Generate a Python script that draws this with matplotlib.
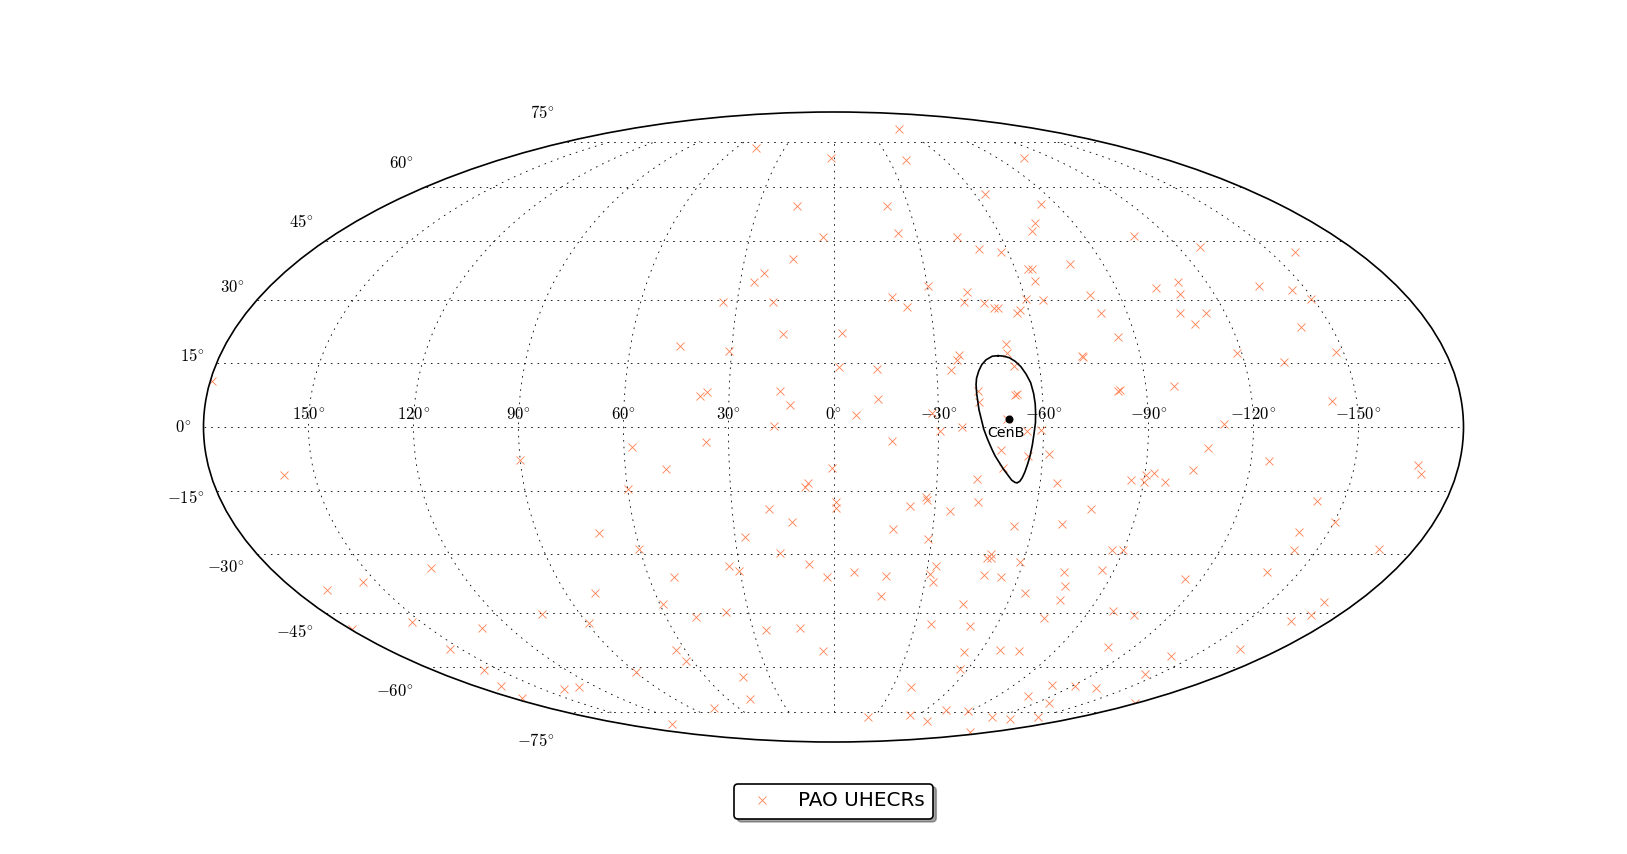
import numpy as np
import matplotlib
matplotlib.use("Agg")
from matplotlib import pyplot as plt
from matplotlib.transforms import Affine2D

# arrival directions, galactic longitude (deg, positive to the left) and latitude (deg)
uhecr_lon = [
    -58.7, 47.3, 1.4, -38.9, -104.8, -64.5, 14.7, -21.4, -84.0, -75.6, -72.4, -23.5, 3.9, -44.1, -108.0,
    -50.5, -57.5, -127.7, -158.7, 13.8, 22.9, 25.5, -64.3, -65.6, -79.0, -65.0, -30.3, -42.2, -102.6, -110.9,
    -109.4, -135.9, -145.5, -149.4, -80.8, -18.4, -60.2, -65.3, -40.5, -46.9, -49.4, -50.7, -22.6, 18.9, 34.4,
    -106.3, -114.2, -81.8, -57.3, -56.1, -109.3, -140.8, -2.6, 15.0, -84.7, -51.1, -50.9, 45.5, 30.7, -36.7,
    -36.2, -118.7, -147.8, -73.1, -72.8, -52.7, -131.6, -34.1, -1.7, -12.5, -82.5, -81.9, -98.2, -41.5, -41.7,
    15.4, 36.5, 38.3, -12.9, 12.6, -52.0, -52.6, -142.9, 179.6, -6.4, -49.5, -28.3, -111.6, -36.7, -30.4,
    17.0, -55.4, -59.4, -47.9, -55.7, -61.7, 36.6, -16.8, 57.7, -107.1, -125.0, 90.1, -168.2, -169.8, 158.8,
    48.3, 0.4, -103.6, -48.7, -92.7, -90.4, -90.1, -86.1, -96.1, -41.5, -64.8, 60.0, 7.4, 8.3, -27.2,
    -27.6, -22.5, -42.6, -142.2, -0.8, -0.8, 19.2, -34.6, -76.3, 12.3, -18.0, -54.2, -68.7, -150.3, 71.3,
    27.1, -141.0, -29.0, 60.3, -143.1, -168.9, 16.7, -86.4, -90.0, -49.1, -48.1, -58.8, -49.4, -32.5, 33.2,
    30.5, 7.7, 128.6, 51.7, 2.2, -6.5, -17.0, -31.3, -48.8, -54.4, -74.2, -86.2, -139.3, -114.5, -32.5,
    168.9, 154.4, -76.8, 80.1, -16.0, -64.4, -77.4, 58.9, -44.6, -168.7, -98.4, -107.0, -170.2, 103.7, 37.9,
    49.3, 153.2, 89.0, -165.8, -75.6, 130.2, 25.4, 12.5, -35.5, -50.2, 179.3, 154.0, 63.5, 4.4, -53.1,
    -67.2, -75.1, -109.3, -163.6, -140.4, 63.1, 157.5, 90.1, 42.5, -56.8, -144.0, 166.8, 138.6, 128.8, -39.1,
    -108.6, -121.0, -133.7, -107.1, 175.4, 47.5, -126.9, 75.5, -177.7, -53.8, -88.5, -73.0, -25.5, -115.9, -134.4,
    -150.1, 139.6, -75.1, -153.0,
]
uhecr_lat = [
    80.3, 72.5, 69.3, 68.6, 69.3, 57.9, 54.3, 54.3, 54.9, 49.7, 47.4, 46.9, 46.0, 46.0, 46.3,
    42.8, 42.0, 43.3, 42.0, 40.1, 36.7, 34.3, 37.7, 37.7, 38.8, 34.6, 33.3, 32.0, 33.0, 34.3,
    31.5, 33.3, 32.3, 30.2, 31.2, 30.7, 30.2, 30.0, 29.5, 29.2, 27.9, 27.9, 28.2, 29.5, 29.5,
    26.7, 26.7, 26.7, 27.4, 26.7, 24.2, 23.4, 22.0, 21.7, 21.0, 19.4, 17.3, 18.8, 17.8, 16.8,
    15.6, 17.3, 17.5, 16.3, 16.6, 14.2, 15.1, 13.2, 13.9, 13.4, 8.5, 8.4, 9.5, 8.4, 5.8,
    8.3, 8.1, 7.3, 6.4, 5.2, 7.4, 7.6, 6.1, 10.7, 2.8, 1.9, 3.2, 0.6, 0.0, -0.9,
    0.1, -0.9, -0.7, -5.3, -6.7, -6.3, -3.5, -3.2, -4.7, -4.9, -7.8, -7.6, -8.8, -11.0, -11.2,
    -9.8, -9.5, -10.0, -9.5, -10.7, -11.2, -12.7, -12.4, -12.7, -12.1, -13.0, -14.4, -13.1, -13.9, -16.3,
    -17.0, -18.5, -17.5, -17.3, -17.5, -18.8, -19.2, -19.5, -19.2, -22.2, -23.9, -23.2, -22.7, -22.2, -24.9,
    -25.9, -24.7, -26.2, -28.7, -29.0, -28.7, -29.7, -29.0, -29.0, -30.0, -31.0, -31.8, -31.0, -32.8, -33.0,
    -34.1, -32.5, -33.3, -35.6, -35.6, -34.3, -35.4, -34.8, -35.1, -35.6, -34.3, -33.8, -34.3, -36.1, -36.9,
    -38.8, -36.9, -38.0, -39.8, -40.4, -39.8, -41.4, -42.5, -42.5, -42.0, -44.4, -45.5, -45.5, -45.2, -44.7,
    -46.0, -47.2, -47.4, -46.9, -46.3, -48.8, -49.4, -48.8, -47.7, -48.3, -49.1, -54.6, -54.9, -55.2, -55.5,
    -54.9, -55.2, -54.0, -54.6, -56.7, -58.2, -61.0, -61.6, -62.9, -60.7, -62.2, -65.8, -66.8, -66.2, -66.2,
    -65.5, -65.8, -66.5, -69.3, -70.0, -70.3, -71.4, -73.3, -71.4, -76.0, -74.4, -74.0, -76.8, -76.8, -77.6,
    -76.8, -79.8, -78.5, -83.1,
]

# Cen B position and its contour
cenb_lon = -50.3
cenb_lat = 1.9
contour_lon = [
    -48.3, -46.6, -44.7, -43.3, -42.2, -41.4, -41.1, -41.1, -41.3, -41.6,
    -42.2, -42.8, -43.7, -44.9, -46.2, -47.6, -48.9, -50.3, -51.5, -52.6,
    -53.3, -54.0, -54.6, -55.2, -55.8, -56.4, -56.9, -57.3, -57.7, -57.8,
    -57.8, -57.5, -56.9, -55.9, -54.7, -53.2, -51.6, -49.9, -48.3,
]
contour_lat = [
    16.6, 16.5, 15.7, 14.6, 13.1, 11.5, 10.0, 8.2, 6.3, 4.1,
    2.0, -0.2, -2.2, -4.4, -6.5, -8.2, -9.7, -11.1, -12.3, -12.9,
    -13.0, -12.7, -11.9, -10.6, -8.8, -6.7, -4.2, -1.6, 0.8, 3.2,
    5.3, 7.8, 10.3, 12.2, 13.9, 15.2, 16.1, 16.5, 16.6,
]

lon_ticks = [150, 120, 90, 60, 30, 0, -30, -60, -90, -120, -150]
lat_ticks = [-75, -60, -45, -30, -15, 0, 15, 30, 45, 60, 75]


def main():
    plt.rcParams["mathtext.fontset"] = "cm"
    plt.rcParams["lines.scale_dashes"] = False

    fig = plt.figure(figsize=(1627 / 120, 854 / 120), dpi=120)
    ax = fig.add_subplot(111, projection="mollweide")
    ax.set_position([203 / 1627, 112 / 854, 1261 / 1627, 630 / 854])

    ax.plot(-np.radians(uhecr_lon), np.radians(uhecr_lat), "x", color="coral", ms=5, mew=0.5,
            label="PAO UHECRs")
    ax.plot(-np.radians(contour_lon), np.radians(contour_lat), "-", color="k", lw=1)
    ax.plot(-np.radians(cenb_lon), np.radians(cenb_lat), "o", color="k", ms=3.8)
    ax.annotate("CenB", (-np.radians(cenb_lon), np.radians(cenb_lat)), xytext=(-2, -8.5),
                textcoords="offset points", ha="center", va="center", fontsize=8.5)

    ax.set_xticks(-np.radians(lon_ticks))
    ax.set_xticklabels(["$%d^{\\!\\circ}$" % v for v in lon_ticks], fontsize=10)
    ax.set_yticks(np.radians(lat_ticks))
    ax.set_yticklabels(["$%d^{\\!\\circ}$" % v for v in lat_ticks], fontsize=10)
    # geo axes ignore tick pad, so push the latitude labels off the outline by hand
    for lab in ax.get_yticklabels():
        lab.set_transform(lab.get_transform() + Affine2D().translate(-4, 0))
    ax.grid(True, color="k", lw=0.5, ls=(0, (1, 3)))
    ax.spines["geo"].set_linewidth(1)

    leg = ax.legend(loc="center", bbox_to_anchor=(833.5 / 1627, 53 / 854), bbox_transform=fig.transFigure,
                    numpoints=1, fancybox=True, shadow=True, fontsize=12, framealpha=1)
    leg.get_frame().set_edgecolor("k")
    leg.get_frame().set_linewidth(1)

    plt.savefig("out.png")


if __name__ == "__main__":
    main()
